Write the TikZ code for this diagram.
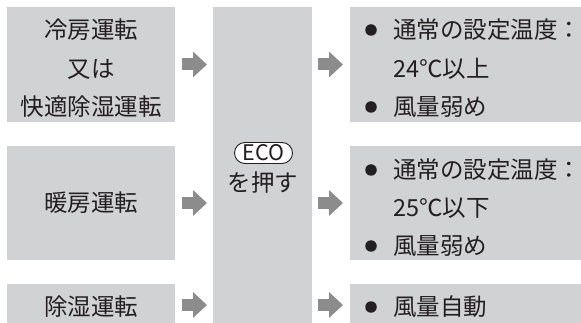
\documentclass[tikz,border=0pt]{standalone}
\usepackage{fontspec}
\setmainfont{Noto Sans CJK JP}
\usetikzlibrary{arrows.meta}
\definecolor{boxgray}{RGB}{209,210,212}
\definecolor{arrgray}{RGB}{140,140,140}
\definecolor{ink}{RGB}{35,31,32}
\tikzset{
  gbox/.style={fill=boxgray, draw=none, inner sep=0pt, outer sep=0pt},
  txt/.style={text=ink, inner sep=0pt, text height=20.7pt, text depth=2.8pt},
  ltxt/.style={txt, anchor=west},
  dot/.style={circle, fill=ink, draw=none, minimum size=11.5pt, inner sep=0pt},
  blockarrow/.style={draw=arrgray, line width=12pt, -{Triangle[length=14pt,width=25pt]}},
}
\begin{document}
\begin{tikzpicture}[x=1pt,y=-1pt, font=\fontsize{23.5}{38}\selectfont]
\useasboundingbox (0,0) rectangle (581,323);
% left boxes
\node[gbox, minimum width=168pt, minimum height=115pt] (op1) at (91,64.5) {};
\node[gbox, minimum width=168pt, minimum height=114pt] (op2) at (91,203) {};
\node[gbox, minimum width=168pt, minimum height=42pt] (op3) at (91,305) {};
% middle box
\node[gbox, minimum width=99pt, minimum height=320pt] (mid) at (262.5,167) {};
% right boxes
\node[gbox, minimum width=231pt, minimum height=115pt] (res1) at (465.5,64.5) {};
\node[gbox, minimum width=231pt, minimum height=114pt] (res2) at (465.5,203) {};
\node[gbox, minimum width=231pt, minimum height=42pt] (res3) at (465.5,305) {};
% left texts
\node[txt] (t1a) at (91,30) {冷房運転};
\node[txt] (t1b) at (91,68.5) {又は};
\node[txt] (t1c) at (91,107) {快適除湿運転};
\node[txt] (t2) at (91,203) {暖房運転};
\node[txt] (t3) at (91,307) {除湿運転};
% middle texts
\node[draw=ink, line width=0.9pt, fill=white, rounded corners=10.5pt, minimum width=58pt,
      minimum height=21pt, inner sep=0pt, text=ink, text height=15pt, text depth=0pt,
      font=\fontsize{21.5}{21.5}\selectfont] (eco) at (263.5,153) {ECO};
\node[txt] (push) at (263,183) {を押す};
% right texts
\node[dot] (d1a) at (371,30) {};
\node[ltxt] (r1a) at (393,30) {通常の設定温度：};
\node[ltxt] (r1b) at (393,68.5) {24℃以上};
\node[dot] (d1c) at (371,107) {};
\node[ltxt] (r1c) at (393,107) {風量弱め};
\node[dot] (d2a) at (371,170) {};
\node[ltxt] (r2a) at (393,170) {通常の設定温度：};
\node[ltxt] (r2b) at (393,208) {25℃以下};
\node[dot] (d2c) at (371,246) {};
\node[ltxt] (r2c) at (393,246) {風量弱め};
\node[dot] (d3) at (371,307) {};
\node[ltxt] (r3) at (393,307) {風量自動};
% arrows
\draw[blockarrow, shorten <=7pt, shorten >=6pt] (op1.east) -- (op1.east -| mid.west);
\draw[blockarrow, shorten <=7pt, shorten >=6pt] (op2.east) -- (op2.east -| mid.west);
\draw[blockarrow, shorten <=7pt, shorten >=6pt] (op3.east) -- (op3.east -| mid.west);
\draw[blockarrow, shorten <=6pt, shorten >=7pt] (res1.west -| mid.east) -- (res1.west);
\draw[blockarrow, shorten <=6pt, shorten >=7pt] (res2.west -| mid.east) -- (res2.west);
\draw[blockarrow, shorten <=6pt, shorten >=7pt] (res3.west -| mid.east) -- (res3.west);
\end{tikzpicture}
\end{document}
